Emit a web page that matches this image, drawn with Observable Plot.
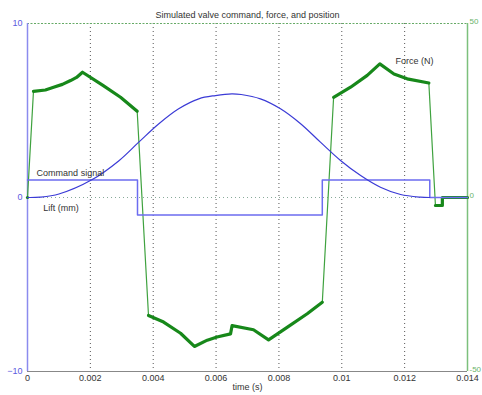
<!DOCTYPE html>
<html><head><meta charset="utf-8">
<script src="https://cdn.jsdelivr.net/npm/d3@7"></script>
<script src="https://cdn.jsdelivr.net/npm/@observablehq/plot@0.6"></script>
<style>body{margin:0;background:#fff}#chart svg{background:#fff}</style>
</head><body><div id="chart"></div>
<script>
const title = "Simulated valve command, force, and position";
const xLabel = "time (s)";
const xTicks = [0, 0.002, 0.004, 0.006, 0.008, 0.01, 0.012, 0.014];
const leftTicks = [-10, 0, 10];
const rightTicks = [-50, 0, 50];

// Command signal (left axis units)
const commandT = [0, 0.0035, 0.0035, 0.00938, 0.00938, 0.0128, 0.0128, 0.014];
const commandV = [1, 1, -1, -1, 1, 1, 0, 0];

// Lift (mm, left axis)
const liftT = [0, 0.0004, 0.001, 0.00206, 0.0029, 0.00354, 0.00418, 0.00481, 0.00545, 0.00598, 0.0065, 0.0068, 0.00741, 0.00805, 0.00869, 0.00932, 0.00996, 0.0106, 0.01123, 0.01187, 0.0125, 0.0128];
const liftV = [0, 0.02, 0.2, 1.03, 2.1, 3.18, 4.24, 5.1, 5.67, 5.86, 5.96, 5.92, 5.67, 5.1, 4.24, 3.18, 2.13, 1.26, 0.59, 0.17, 0.02, 0];

// Force (N, right axis)
const forceT = [0, 0.00019, 0.00057, 0.00083, 0.00111, 0.00137, 0.00156, 0.00175, 0.0024, 0.00296, 0.00349, 0.00385, 0.00433, 0.00487, 0.00531, 0.00572, 0.00603, 0.00646, 0.00651, 0.00719, 0.00767, 0.00826, 0.0089, 0.00938, 0.00974, 0.01028, 0.01081, 0.01121, 0.01166, 0.01208, 0.01277, 0.01298, 0.0132, 0.0132, 0.014];
const forceV = [0, 30.5, 30.9, 31.7, 32.5, 33.6, 34.5, 36, 32.2, 28.8, 24.8, -33.9, -35.8, -39, -42.8, -41, -40.1, -39.2, -36.8, -38, -40.9, -37.3, -33.4, -30.1, 28.8, 31.7, 35.1, 38.4, 35.5, 34.1, 32.9, -2.3, -2.3, 0, 0];

const ratio = 5; // right axis units per left axis unit

const command = commandT.map((t, i) => ({t, v: commandV[i]}));
const lift = liftT.map((t, i) => ({t, v: liftV[i]}));
let seg = 0;
const force = forceT.map((t, i) => {
  if (i > 0 && Math.abs(forceV[i] - forceV[i - 1]) > 20) seg++;
  return {t, v: forceV[i] / ratio, seg};
});

const blue = "#3b3bd6", cmdBlue = "#6c6cf0", green = "#17881a";
const fmt = d => String(+d.toFixed(3));

const chart = Plot.plot({
  width: 482,
  height: 395,
  marginLeft: 27,
  marginRight: 15,
  marginTop: 23,
  marginBottom: 24,
  style: {fontFamily: "Liberation Sans, Arial, sans-serif", fontSize: "9px", background: "#fff"},
  x: {domain: [0, 0.014]},
  y: {domain: [-10, 10]},
  marks: [
    Plot.ruleX(xTicks.slice(1, -1), {stroke: "#555", strokeDasharray: "1,3", strokeWidth: 1}),
    Plot.ruleY([0], {stroke: "#8a9", strokeDasharray: "1,3"}),
    Plot.ruleY([10], {stroke: "#6a6", strokeDasharray: "2,1.5"}),
    Plot.ruleY([-10], {stroke: "#888"}),
    Plot.ruleX([0], {stroke: "#8b8bee", strokeWidth: 1.5}),
    Plot.ruleX([0.014], {stroke: "#7cc07c", strokeWidth: 1.5}),
    Plot.line(force, {x: "t", y: "v", stroke: "#3fa23f", strokeWidth: 1.2}),
    Plot.line(force, {x: "t", y: "v", z: "seg", stroke: green, strokeWidth: 3.2, strokeLinejoin: "round"}),
    Plot.line(command, {x: "t", y: "v", stroke: cmdBlue, strokeWidth: 1.5}),
    Plot.line(lift, {x: "t", y: "v", stroke: blue, strokeWidth: 1.2, curve: "catmull-rom"}),
    Plot.axisX({ticks: xTicks, tickFormat: fmt, tickSize: 0, tickPadding: 3, label: null, fill: "#333"}),
    Plot.axisY({anchor: "left", ticks: leftTicks, tickSize: 0, tickPadding: 5, label: null, fill: "#5a5ae0"}),
    Plot.axisY({anchor: "right", ticks: rightTicks.map(d => d / ratio), tickFormat: d => String(d * ratio), tickSize: 0, tickPadding: 2, label: null, fill: "#6ab46a", fontSize: 8, dy: -2}),
    Plot.text([title], {frameAnchor: "top", dy: -12, fill: "#333"}),
    Plot.text([xLabel], {frameAnchor: "bottom", dy: 18, fill: "#333"}),
    Plot.text(["Command signal"], {x: 0.00029, y: 1.4, textAnchor: "start", fill: "#333"}),
    Plot.text(["Lift (mm)"], {x: 0.0005, y: -0.61, textAnchor: "start", fill: "#333"}),
    Plot.text(["Force (N)"], {x: 0.01171, y: 7.82, textAnchor: "start", fill: "#333"})
  ]
});
document.getElementById("chart").appendChild(chart);
</script>
</body></html>
